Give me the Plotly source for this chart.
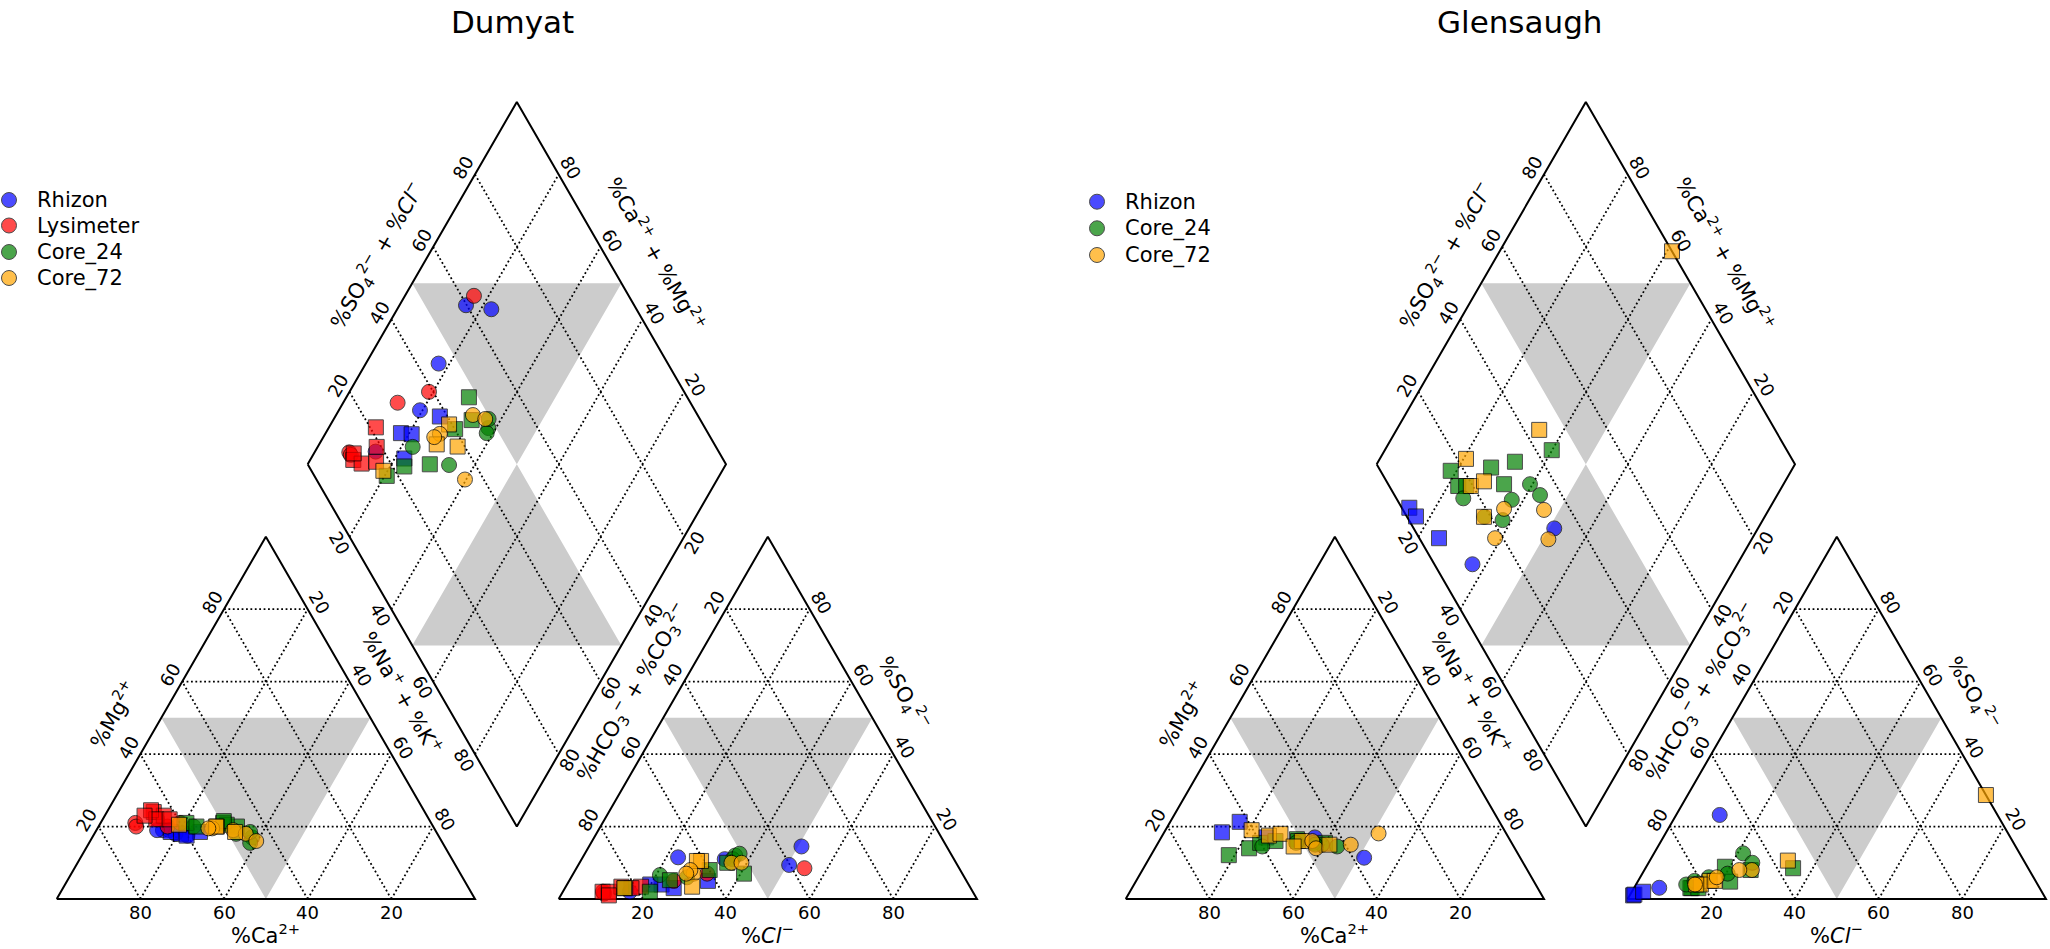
import numpy as np
import plotly.graph_objects as go

# ---------------- data (percent of meq/L) ----------------
# Dumyat
D_RHI_NAK = [15.9, 22.5, 17.4, 19.4, 25.0, 18.0, 20.7, 22.3, 14.5]
D_RHI_MG = [19.0, 17.5, 19.0, 18.0, 18.5, 18.5, 18.0, 17.5, 19.0]
D_RHI_CL = [50.4, 50.8, 34.2, 22.8, 33.2, 22.6, 26.0, 19.9, 16.0]
D_RHI_SO4 = [9.4, 14.5, 11.0, 11.5, 5.0, 4.0, 3.0, 4.0, 2.0]
D_RHI_SYM = ["circle", "circle", "circle", "circle", "square", "square", "square", "square", "circle"]

D_LYS_NAK = [16.5, 19.0, 13.0, 11.2, 14.1, 8.3, 9.0, 10.3, 12.8, 16.0, 9.5]
D_LYS_MG = [20.0, 21.0, 22.0, 24.0, 23.0, 21.0, 20.0, 24.5, 22.0, 22.0, 23.0]
D_LYS_CL = [54.5, 32.0, 25.0, 18.0, 15.9, 10.1, 9.6, 9.5, 11.0, 13.3, 11.5]
D_LYS_SO4 = [8.5, 7.0, 5.0, 3.4, 3.0, 1.5, 2.0, 2.0, 2.0, 3.4, 1.0]
D_LYS_SYM = ["circle", "circle", "circle", "square", "square", "circle", "circle", "square", "square", "square", "square"]

D_C24_NAK = [29.3, 38.2, 38.5, 33.1, 30.4, 22.7, 20.5, 23.4, 29.2, 33.9, 37.0]
D_C24_MG = [21.0, 17.0, 15.5, 20.0, 20.5, 20.0, 21.0, 20.0, 21.5, 18.0, 18.5]
D_C24_CL = [40.8, 36.2, 36.1, 35.3, 32.1, 20.9, 14.3, 20.8, 24.0, 27.7, 37.0]
D_C24_SO4 = [7.0, 12.0, 11.0, 10.0, 8.0, 6.6, 3.0, 2.0, 5.2, 6.0, 12.5]
D_C24_SYM = ["square", "circle", "circle", "square", "square", "circle", "square", "square", "square", "circle", "circle"]

D_C72_NAK = [32.7, 36.2, 28.3, 27.4, 28.1, 33.4, 19.0, 39.7, 26.5]
D_C72_MG = [19.0, 18.0, 20.0, 19.5, 20.0, 18.5, 20.5, 16.0, 19.5]
D_C72_CL = [36.3, 38.7, 28.8, 28.8, 30.2, 27.8, 14.2, 27.5, 27.0]
D_C72_SO4 = [10.0, 10.0, 10.5, 7.0, 3.4, 10.5, 3.0, 8.0, 7.0]
D_C72_SYM = ["circle", "circle", "square", "circle", "square", "square", "square", "circle", "circle"]

# Glensaugh
G_RHI_NAK = [13.8, 16.6, 25.1, 36.7, 51.3]
G_RHI_MG = [18.4, 21.3, 17.0, 17.0, 11.4]
G_RHI_CL = [0.8, 1.0, 2.7, 6.0, 10.4]
G_RHI_SO4 = [1.0, 1.2, 2.0, 3.1, 23.2]
G_RHI_SYM = ["square", "square", "square", "circle", "circle"]

G_C24_NAK = [39.9, 18.6, 27.8, 32.7, 22.5, 24.4, 33.2, 25.4, 39.4, 43.3, 37.2, 37.8, 33.0]
G_C24_MG = [15.5, 12.1, 16.0, 16.5, 14.0, 15.5, 16.0, 14.5, 15.0, 14.5, 15.5, 15.0, 15.5]
G_C24_CL = [35.3, 13.8, 22.1, 25.4, 13.5, 15.4, 18.8, 12.0, 21.3, 24.8, 20.4, 16.4, 13.5]
G_C24_SO4 = [8.5, 3.0, 4.8, 8.0, 3.0, 3.0, 8.9, 4.0, 12.6, 10.0, 7.0, 6.0, 5.0]
G_C24_SYM = ["square"] * 7 + ["circle"] * 6

G_C72_NAK = [34.1, 20.6, 25.5, 28.0, 36.6, 32.9, 46.3, 51.4, 38.5, 41.2]
G_C72_MG = [16.0, 19.0, 17.5, 18.0, 16.0, 14.5, 15.0, 18.1, 14.0, 15.0]
G_C72_CL = [33.0, 17.1, 15.5, 18.3, 18.3, 14.4, 25.7, 22.7, 14.1, 71.3]
G_C72_SO4 = [10.6, 5.0, 4.0, 5.0, 6.0, 4.0, 8.0, 8.0, 4.0, 28.7]
G_C72_SYM = ["square", "square", "square", "square", "circle", "square", "circle", "circle", "circle", "square"]

PANEL_TITLES = ["Dumyat", "Glensaugh"]
GROUP_COLORS = {"Rhizon": "blue", "Lysimeter": "red", "Core_24": "green", "Core_72": "orange"}
PANEL_GROUPS = [
    [("Rhizon", D_RHI_NAK, D_RHI_MG, D_RHI_CL, D_RHI_SO4, D_RHI_SYM),
     ("Lysimeter", D_LYS_NAK, D_LYS_MG, D_LYS_CL, D_LYS_SO4, D_LYS_SYM),
     ("Core_24", D_C24_NAK, D_C24_MG, D_C24_CL, D_C24_SO4, D_C24_SYM),
     ("Core_72", D_C72_NAK, D_C72_MG, D_C72_CL, D_C72_SO4, D_C72_SYM)],
    [("Rhizon", G_RHI_NAK, G_RHI_MG, G_RHI_CL, G_RHI_SO4, G_RHI_SYM),
     ("Core_24", G_C24_NAK, G_C24_MG, G_C24_CL, G_C24_SO4, G_C24_SYM),
     ("Core_72", G_C72_NAK, G_C72_MG, G_C72_CL, G_C72_SO4, G_C72_SYM)],
]
TICKS = [20, 40, 60, 80]

# ---------------- layout geometry ----------------
W, HP = 2050, 949
S = 418.3           # px per triangle side
OX, OY = 56.7, 899.0
PANEL_DX = [0.0, 1069.0 / S]
H = np.sqrt(3) / 2
TICK_FS, TITLE_FS, LEG_FS = 18, 21, 21
FONT = "DejaVu Sans"
MSIZE = 15


def px2u(xp, yp):
    return (xp - OX) / S, (OY - yp) / S


def cat_xy(nak, mg, ox):
    nak = np.asarray(nak, float) / 100; mg = np.asarray(mg, float) / 100
    return ox + nak + 0.5 * mg, H * mg


def an_xy(cl, so4, ox):
    cl = np.asarray(cl, float) / 100; so4 = np.asarray(so4, float) / 100
    return ox + 1.2 + cl + 0.5 * so4, H * so4


def dia_xy(nak, s, ox):
    nak = np.asarray(nak, float) / 100; s = np.asarray(s, float) / 100
    return ox + 0.6 + 0.5 * (nak + s), 1.2 * H + H * (s - nak)


fig = go.Figure()
annotations = []


def ann(x, y, text, angle=0, size=TICK_FS, xanchor="center"):
    annotations.append(dict(x=x, y=y, xref="x", yref="y", text=text, showarrow=False,
                            textangle=angle, xanchor=xanchor, yanchor="middle",
                            font=dict(size=size, color="black", family=FONT)))


def add_poly(xs, ys, **kw):
    fig.add_trace(go.Scatter(x=xs, y=ys, mode="lines", hoverinfo="skip", showlegend=False, **kw))


NL = (-H, 0.5)    # outward normals (unit coords, y up)
NR = (H, 0.5)
NLL = (-H, -0.5)
NLR = (H, -0.5)

for p, ox in enumerate(PANEL_DX):
    # gray fields
    gx, gy = [], []
    for tri in [cat_xy([50, 0, 50, 50], [0, 50, 50, 0], ox), an_xy([50, 0, 50, 50], [0, 50, 50, 0], ox),
                dia_xy([0, 50, 50, 0], [50, 100, 50, 50], ox), dia_xy([50, 100, 50, 50], [0, 50, 50, 0], ox)]:
        gx += list(tri[0]) + [None]; gy += list(tri[1]) + [None]
    add_poly(gx, gy, fill="toself", fillcolor="#cccccc", line=dict(width=0, color="#cccccc"))

    # grid lines
    lx, ly = [], []
    for k in TICKS:
        segs = [
            cat_xy([0, 100 - k], [k, k], ox), cat_xy([k, k], [0, 100 - k], ox), cat_xy([100 - k, 0], [0, 100 - k], ox),
            an_xy([0, 100 - k], [k, k], ox), an_xy([k, 0], [0, k], ox), an_xy([k, k], [0, 100 - k], ox),
            dia_xy([0, 100], [k, k], ox), dia_xy([k, k], [0, 100], ox),
        ]
        for sx, sy in segs:
            lx += list(sx) + [None]; ly += list(sy) + [None]
    add_poly(lx, ly, line=dict(color="black", width=1.8, dash="1.8px,2.6px"))

    # outlines
    ox_, oy_ = [], []
    for sx, sy in [cat_xy([0, 100, 0, 0], [0, 0, 100, 0], ox), an_xy([0, 100, 0, 0], [0, 0, 100, 0], ox),
                   dia_xy([0, 100, 100, 0, 0], [0, 0, 100, 100, 0], ox)]:
        ox_ += list(sx) + [None]; oy_ += list(sy) + [None]
    add_poly(ox_, oy_, line=dict(color="black", width=2))

    # tick labels
    for k in TICKS:
        d = 13.5 / S
        x, y = cat_xy(0, k, ox); ann(x + d * NL[0], y + d * NL[1], str(k), -60)
        x, y = cat_xy(k, 100 - k, ox); ann(x + d * NR[0], y + d * NR[1], str(k), 60)
        x, y = cat_xy(100 - k, 0, ox); ann(x, y - d, str(k))
        x, y = an_xy(0, 100 - k, ox); ann(x + d * NL[0], y + d * NL[1], str(k), -60)
        x, y = an_xy(100 - k, k, ox); ann(x + d * NR[0], y + d * NR[1], str(k), 60)
        x, y = an_xy(k, 0, ox); ann(x, y - d, str(k))
        x, y = dia_xy(0, k, ox); ann(x + d * NL[0], y + d * NL[1], str(k), -60)
        x, y = dia_xy(100 - k, 100, ox); ann(x + d * NR[0], y + d * NR[1], str(k), 60)
        d2 = 12 / S
        x, y = dia_xy(k, 0, ox); ann(x + d2 * NLL[0], y + d2 * NLL[1], str(k), 60)
        x, y = dia_xy(100, 100 - k, ox); ann(x + d2 * NLR[0], y + d2 * NLR[1], str(k), -60)

    # axis titles
    x, y = cat_xy(0, 45, ox); d = 44 / S; ann(x + d * NL[0], y + d * NL[1], "%Mg<sup>2+</sup>", -60, TITLE_FS)
    x, y = cat_xy(48.7, 51.3, ox); d = 41 / S; ann(x + d * NR[0], y + d * NR[1], "%Na<sup>+</sup> + %K<sup>+</sup>", 60, TITLE_FS)
    x, y = cat_xy(50, 0, ox); ann(x, y - 35 / S, "%Ca<sup>2+</sup>", 0, TITLE_FS)
    x, y = an_xy(0, 51.7, ox); d = 40 / S
    ann(x + d * NL[0], y + d * NL[1], "%HCO<sub>3</sub><sup>−</sup> + %CO<sub>3</sub><sup>2−</sup>", -60, TITLE_FS)
    x, y = an_xy(48.7, 51.3, ox); ann(x + d * NR[0], y + d * NR[1], "%SO<sub>4</sub><sup>2−</sup>", 60, TITLE_FS)
    x, y = an_xy(50, 0, ox); ann(x, y - 35 / S, "%<i>Cl</i><sup>−</sup>", 0, TITLE_FS)
    x, y = dia_xy(0, 51.6, ox); d = 45 / S
    ann(x + d * NL[0], y + d * NL[1], "%SO<sub>4</sub><sup>2−</sup> + %<i>Cl</i><sup>−</sup>", -60, TITLE_FS)
    x, y = dia_xy(48, 100, ox); d = 45 / S
    ann(x + d * NR[0], y + d * NR[1], "%Ca<sup>2+</sup> + %Mg<sup>2+</sup>", 60, TITLE_FS)

    # data markers
    for name, nak, mg, cl, so4, sym in PANEL_GROUPS[p]:
        s = np.asarray(cl) + np.asarray(so4)
        cx, cy = cat_xy(nak, mg, ox)
        ax, ay = an_xy(cl, so4, ox)
        dx, dy = dia_xy(nak, s, ox)
        fig.add_trace(go.Scatter(
            x=np.concatenate([cx, ax, dx]), y=np.concatenate([cy, ay, dy]), mode="markers",
            name=name, showlegend=False,
            marker=dict(symbol=list(sym) * 3, size=MSIZE, color=GROUP_COLORS[name], opacity=0.7,
                        line=dict(color="black", width=1))))

# panel titles
for xp, t in zip([512, 1519], PANEL_TITLES):
    x, y = px2u(xp, 22)
    ann(x, y, t, 0, 31)

# legends
LEG_POS = [(9, [200, 225.5, 252, 278]), (1097, [201.7, 228.3, 255])]
for p, (xp, ys) in enumerate(LEG_POS):
    names = [g[0] for g in PANEL_GROUPS[p]]
    mx, my = [], []
    for name, yp in zip(names, ys):
        x, y = px2u(xp, yp)
        mx.append(x); my.append(y)
        tx, ty = px2u(xp + 26, yp)
        ann(tx, ty, name, 0, LEG_FS, xanchor="left")
    fig.add_trace(go.Scatter(x=mx, y=my, mode="markers", showlegend=False, hoverinfo="skip",
                             marker=dict(symbol="circle", size=15, opacity=0.7,
                                         color=[GROUP_COLORS[n] for n in names],
                                         line=dict(color="black", width=1))))

x0, y1 = px2u(0, 0)
x1, y0 = px2u(W, HP)
fig.update_layout(
    width=W, height=HP, margin=dict(l=0, r=0, t=0, b=0),
    paper_bgcolor="white", plot_bgcolor="white", showlegend=False,
    xaxis=dict(range=[x0, x1], visible=False, showgrid=False, zeroline=False, fixedrange=True),
    yaxis=dict(range=[y0, y1], visible=False, showgrid=False, zeroline=False, fixedrange=True),
    annotations=annotations, font=dict(family=FONT),
)
fig.write_html("out.html", config={"displayModeBar": False},
               post_script="document.body.style.margin='0';document.body.style.overflow='hidden';")
